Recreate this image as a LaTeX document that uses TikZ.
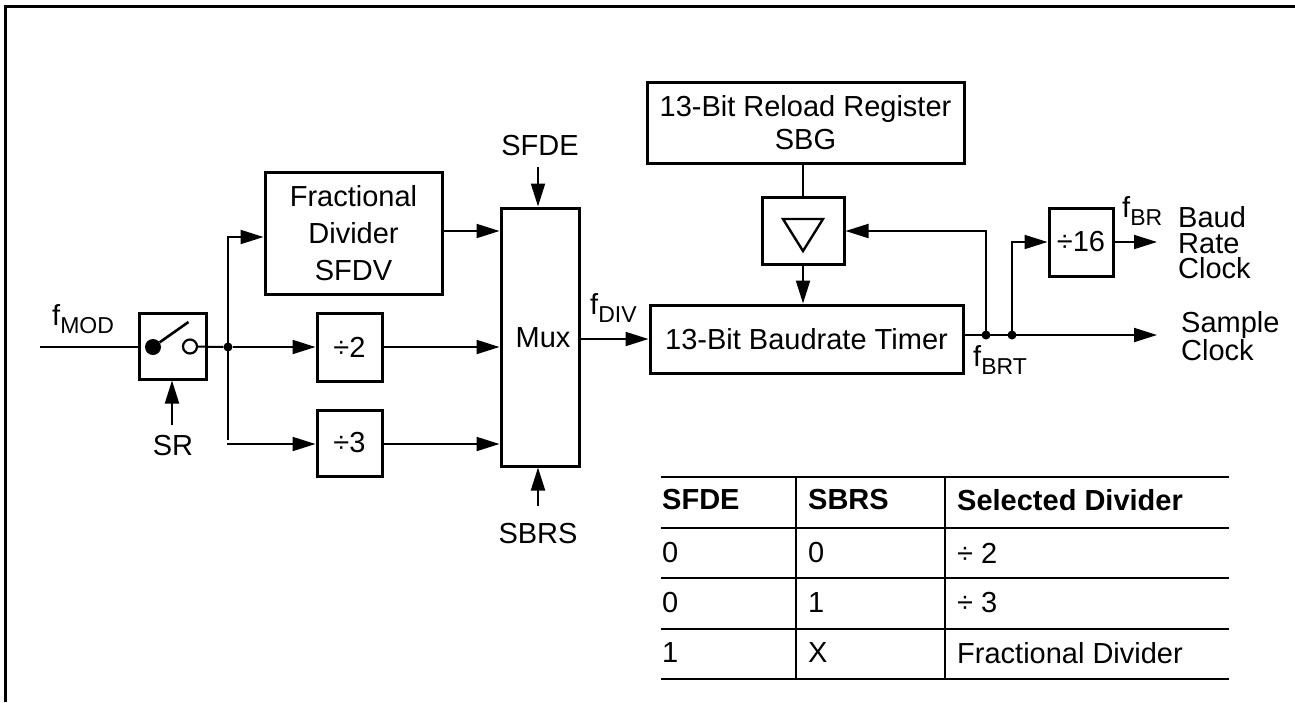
\documentclass[tikz,border=0pt]{standalone}
\usepackage{fontspec}
\setmainfont{Liberation Sans}
\usetikzlibrary{arrows.meta}
\newcommand{\lbl}{\fontsize{29}{33}\selectfont}
\newcommand{\tbl}{\fontsize{29}{33}\selectfont}
\newcommand{\fsub}[1]{f\raisebox{-8pt}{\fontsize{23}{26}\selectfont #1}}
\tikzset{
  blk/.style={draw=black,line width=3pt,fill=white,inner sep=0pt,align=center,font=\lbl},
  txt/.style={inner sep=0pt,font=\lbl},
  ttxt/.style={inner sep=0pt,font=\tbl,anchor=west},
  conn/.style={line width=2pt},
  arr/.style={line width=2pt,-{Triangle[length=23pt,width=14pt]}},
  tline/.style={line width=2pt},
  dot/.style={circle,fill=black,inner sep=0pt,minimum size=9pt},
}
\begin{document}
\begin{tikzpicture}[x=1pt,y=-1pt]
\useasboundingbox (0,0) rectangle (1295,702);
\fill[white] (0,0) rectangle (1295,702);
% frame
\coordinate (fa) at (5.5,702);
\coordinate (fb) at (5.5,6.5);
\coordinate (fc) at (1295,6.5);
\draw[line width=2.2pt] (fa) -- (fb) -- (fc);
% blocks
\node[blk,minimum width=67pt,minimum height=66pt] (sw) at (172.5,346) {};
\node[blk,minimum width=177pt,minimum height=122pt,font=\fontsize{29}{37}\selectfont] (frac) at (353.5,233) {Fractional\\Divider\\SFDV};
\node[blk,minimum width=65pt,minimum height=68pt] (dtwo) at (349.5,347) {÷2};
\node[blk,minimum width=65pt,minimum height=66pt] (dthree) at (349.5,443) {÷3};
\node[blk,minimum width=78pt,minimum height=258pt] (mux) at (540,337) {};
\node[txt] (muxt) at (543,338) {Mux};
\node[blk,minimum width=317pt,minimum height=81pt] (reload) at (805.5,122.5) {13-Bit Reload Register\\SBG};
\node[blk,minimum width=82pt,minimum height=67pt] (tribox) at (803,230.5) {};
\node[blk,minimum width=313pt,minimum height=68pt] (timer) at (806.5,339) {13-Bit Baudrate Timer};
\node[blk,minimum width=64pt,minimum height=68pt] (dsix) at (1081,242) {÷16};
% triangle and switch symbols
\draw[line width=2.4pt,line join=miter] (783,219) -- (823,219) -- (803,251) -- cycle;
\node[circle,fill=black,inner sep=0pt,minimum size=16pt] (swa) at (153,347) {};
\node[circle,draw=black,fill=white,line width=2.2pt,inner sep=0pt,minimum size=14pt] (swb) at (190,346.5) {};
\coordinate (swc) at (188.5,322);
\draw[line width=2.6pt] (swa) -- (swc);
% free ends and junctions
\coordinate (inp) at (40,347);
\node[dot] (ja) at (228,347) {};
\coordinate (jt) at (228,237);
\coordinate (jb) at (228,440);
\coordinate (jc) at (227,444);
\node[dot] (jd) at (986,335) {};
\node[dot] (je) at (1012,335) {};
\coordinate (jf) at (986,231);
\coordinate (jg) at (1012,242);
\coordinate (sc) at (1157,335);
\coordinate (br) at (1157,242);
% labels
\node[txt] (sfde) at (540,146) {SFDE};
\node[txt] (sbrs) at (538,534) {SBRS};
\node[txt] (sr) at (173,446) {SR};
\coordinate (sfdeo) at (538,167);
\coordinate (sbrso) at (538,506);
\coordinate (sro) at (172,425);
\node[txt,anchor=base west] (fmod) at (52,325) {\fsub{MOD}};
\node[txt,anchor=base west] (fdiv) at (590,314) {\fsub{DIV}};
\node[txt,anchor=base west] (fbr) at (1122,217) {\fsub{BR}};
\node[txt,anchor=base west] (fbrt) at (973,366) {\fsub{BRT}};
\node[txt,anchor=west,align=left,font=\fontsize{29}{25.5}\selectfont] (baud) at (1178,243) {Baud\\Rate\\Clock};
\node[txt,anchor=west,align=left,font=\fontsize{29}{25}\selectfont] (sample) at (1181,336) {Sample\\Clock};
% connectors
\draw[conn] (inp) -- (sw.west |- inp);
\draw[conn] (swb) -- (ja);
\draw[arr] (ja) -- (dtwo.west |- ja);
\draw[arr] (jb) -- (ja.center) -- (jt) -- (frac.west |- jt);
\draw[arr] (jc) -- (dthree.west |- jc);
\draw[arr] (sro) -- (sw.south -| sro);
\draw[arr] (frac.east |- 0,231) -- (mux.west |- 0,231);
\draw[arr] (dtwo.east) -- (mux.west |- dtwo.east);
\draw[arr] (dthree.east |- jc) -- (mux.west |- jc);
\draw[arr] (sfdeo) -- (mux.north -| sfdeo);
\draw[arr] (sbrso) -- (mux.south -| sbrso);
\draw[arr] (mux.east |- timer.west) -- (timer.west);
\draw[conn] (reload.south -| tribox.north) -- (tribox.north);
\draw[arr] (tribox.south) -- (timer.north -| tribox.south);
\draw[arr] (timer.east |- jd) -- (sc);
\draw[arr] (jd.center) -- (jf) -- (tribox.east |- jf);
\draw[arr] (je.center) -- (jg) -- (dsix.west |- jg);
\draw[arr] (dsix.east) -- (br);
% table
\foreach \y in {477,528,578,629,679} \draw[tline] (661,\y) -- (1229,\y);
\foreach \x in {796,945} \draw[tline] (\x,477) -- (\x,679);
\node[ttxt,font=\tbl\bfseries] (h1) at (662,500) {SFDE};
\node[ttxt,font=\tbl\bfseries] (h2) at (808,500) {SBRS};
\node[ttxt,font=\tbl\bfseries] (h3) at (957,500) {Selected Divider};
\node[ttxt] (a1) at (662,553) {0};
\node[ttxt] (a2) at (808,553) {0};
\node[ttxt] (a3) at (957,553) {÷ 2};
\node[ttxt] (b1) at (662,603) {0};
\node[ttxt] (b2) at (808,603) {1};
\node[ttxt] (b3) at (957,603) {÷ 3};
\node[ttxt] (c1) at (662,653) {1};
\node[ttxt] (c2) at (808,653) {X};
\node[ttxt] (c3) at (957,653) {Fractional Divider};
\end{tikzpicture}
\end{document}
